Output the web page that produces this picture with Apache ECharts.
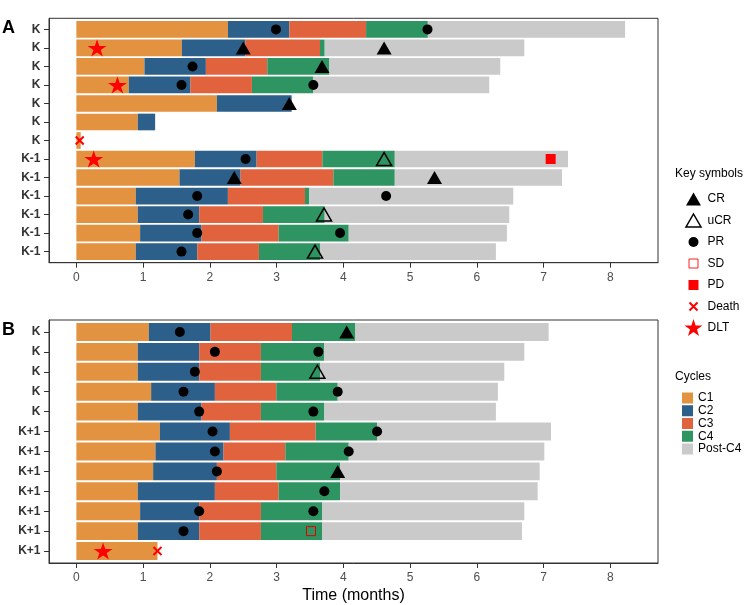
<!DOCTYPE html>
<html><head><meta charset="utf-8">
<script src="https://cdn.jsdelivr.net/npm/echarts@6/dist/echarts.min.js"></script>
<style>html,body{margin:0;padding:0;background:#fff}#c{width:744px;height:605px}</style>
</head><body><div id="c"></div>
<script>
// ---------- DATA ----------
const phaseNames = ['C1', 'C2', 'C3', 'C4', 'Post-C4'];
const xTicks = [0, 1, 2, 3, 4, 5, 6, 7, 8];

// Panel A
const labelsA = ['K','K','K','K','K','K','K','K-1','K-1','K-1','K-1','K-1','K-1'];
const c1EndA   = [2.27, 1.58, 1.02, 0.785, 2.105, 0.92, 0.065, 1.775, 1.545, 0.89, 0.92, 0.955, 0.89];
const c2EndA   = [3.19, 2.53, 1.94, 1.71, 3.225, 1.18, null, 2.70, 2.46, 2.27, 1.84, 1.875, 1.81];
const c3EndA   = [4.34, 3.65, 2.86, 2.63, null, null, null, 3.685, 3.85, 3.425, 2.795, 3.03, 2.735];
const c4EndA   = [5.265, 3.72, 3.79, 3.55, null, null, null, 4.77, 4.77, 3.49, 3.72, 4.08, 3.65];
const postEndA = [8.22, 6.71, 6.35, 6.185, null, null, null, 7.365, 7.275, 6.545, 6.485, 6.45, 6.285];
const crA    = [[2.50,1],[4.61,1],[3.68,2],[3.19,4],[2.365,8],[5.365,8]];
const ucrA   = [[4.61,7],[3.71,10],[3.575,12]];
const prA    = [[2.99,0],[5.26,0],[1.74,2],[1.575,3],[3.55,3],[2.535,7],[1.81,9],[4.64,9],[1.675,10],[1.81,11],[3.95,11],[1.575,12]];
const sdA    = [];
const pdA    = [[7.105,7]];
const deathA = [[0.05,6]];
const dltA   = [[0.31,1],[0.615,3],[0.26,7]];

// Panel B
const labelsB = ['K','K','K','K','K','K+1','K+1','K+1','K+1','K+1','K+1','K+1'];
const c1EndB   = [1.085, 0.92, 0.92, 1.12, 0.92, 1.25, 1.185, 1.15, 0.92, 0.955, 0.92, 1.215];
const c2EndB   = [2.01, 1.84, 1.84, 2.075, 1.875, 2.30, 2.205, 2.105, 2.075, 1.84, 1.84, null];
const c3EndB   = [3.23, 2.765, 2.765, 2.995, 2.765, 3.585, 3.13, 2.995, 3.03, 2.765, 2.765, null];
const c4EndB   = [4.18, 3.715, 3.65, 3.915, 3.715, 4.505, 4.08, 3.95, 3.95, 3.685, 3.685, null];
const postEndB = [7.075, 6.71, 6.41, 6.315, 6.285, 7.11, 7.01, 6.94, 6.91, 6.71, 6.675, null];
const crB    = [[4.05,0],[3.915,7]];
const ucrB   = [[3.61,2]];
const prB    = [[1.55,0],[2.075,1],[3.625,1],[1.775,2],[1.605,3],[3.915,3],[1.84,4],[3.55,4],[2.04,5],[4.505,5],[2.075,6],[4.08,6],[2.105,7],[3.715,8],[1.84,9],[3.55,9],[1.605,10]];
const sdB    = [[3.515,10]];
const pdB    = [];
const deathB = [[1.215,11]];
const dltB   = [[0.40,11]];

// ---------- STYLE ----------
const FONT = 'Liberation Sans, Arial, Helvetica, sans-serif';
const phaseColors = ['#E3923F', '#2C5F8A', '#E0633D', '#2E9461', '#CACACA'];
const STAR = 'path://M10,0L12.245,6.91L19.511,6.91L13.633,11.18L15.878,18.09L10,13.82L4.122,18.09L6.367,11.18L0.489,6.91L7.755,6.91Z';
const XPATH = 'path://M0,0L10,10M10,0L0,10';
const markerDefs = {
  CR:    {symbol:'triangle', size:[15,13], style:{color:'#000'}},
  uCR:   {symbol:'triangle', size:[15,13], style:{color:'none', borderColor:'#000', borderWidth:1.5}},
  PR:    {symbol:'circle', size:10, style:{color:'#000'}},
  SD:    {symbol:'rect', size:9, style:{color:'none', borderColor:'#E00000', borderWidth:1}},
  PD:    {symbol:'rect', size:10, style:{color:'#FF0000'}},
  Death: {symbol:XPATH, size:8, style:{color:'none', borderColor:'#FF0000', borderWidth:2}},
  DLT:   {symbol:STAR, size:[19,18], style:{color:'#FF0000'}}
};
const markerOrder = ['CR','uCR','PR','SD','PD','Death','DLT'];
const legendIcons = {
  CR:    {icon:'path://M0,0M18,18M9,2.5L16.5,15.5L1.5,15.5Z', itemStyle:{color:'#000', borderWidth:0}},
  uCR:   {icon:'path://M0,0M18,18M9,2.5L16.5,15.5L1.5,15.5Z', itemStyle:{color:'none', borderColor:'#000', borderWidth:1.5}},
  PR:    {icon:'path://M0,0M18,18M4,9a5,5 0 1,0 10,0a5,5 0 1,0 -10,0Z', itemStyle:{color:'#000', borderWidth:0}},
  SD:    {icon:'path://M0,0M18,18M4.5,4.5L13.5,4.5L13.5,13.5L4.5,13.5Z', itemStyle:{color:'none', borderColor:'#FF2020', borderWidth:1}},
  PD:    {icon:'path://M0,0M18,18M4,4L14,4L14,14L4,14Z', itemStyle:{color:'#FF0000', borderWidth:0}},
  Death: {icon:'path://M0,0M18,18M5,5L13,13M13,5L5,13', itemStyle:{color:'none', borderColor:'#FF0000', borderWidth:2}},
  DLT:   {icon:STAR, itemStyle:{color:'#FF0000', borderWidth:0}}
};

const panels = [
  {labels:labelsA, ends:[c1EndA,c2EndA,c3EndA,c4EndA,postEndA],
   markers:{CR:crA,uCR:ucrA,PR:prA,SD:sdA,PD:pdA,Death:deathA,DLT:dltA},
   grid:{left:49, top:18.3, width:609, height:244.4}, xName:''},
  {labels:labelsB, ends:[c1EndB,c2EndB,c3EndB,c4EndB,postEndB],
   markers:{CR:crB,uCR:ucrB,PR:prB,SD:sdB,PD:pdB,Death:deathB,DLT:dltB},
   grid:{left:49, top:320, width:609, height:243.3}, xName:'Time (months)'}
];

function renderSeg(params, api) {
  const s = api.value(0), e = api.value(1), r = api.value(2);
  const p0 = api.coord([s, r]), p1 = api.coord([e, r]);
  const h = api.size([0, 0.9])[1];
  return {type:'rect', shape:{x:p0[0], y:p0[1]-h/2, width:p1[0]-p0[0], height:h},
          style:{fill: api.visual('color')}};
}

const grids = [], xAxes = [], yAxes = [], series = [];
panels.forEach((p, pi) => {
  grids.push(Object.assign({show:true, borderColor:'#333', borderWidth:1}, p.grid));
  xAxes.push({
    type:'value', gridIndex:pi, min:-0.41, max:8.713,
    axisLine:{show:true, onZero:false, lineStyle:{color:'#333', width:1}}, splitLine:{show:false},
    axisTick:{show:true, length:5, lineStyle:{color:'#333', width:1}, customValues:xTicks},
    axisLabel:{color:'#4D4D4D', fontSize:12, fontFamily:FONT, margin:9, customValues:xTicks},
    name:p.xName, nameLocation:'middle', nameGap:25,
    nameTextStyle:{color:'#000', fontSize:16, fontFamily:FONT}
  });
  const rows = p.labels.map((_, i) => i);
  yAxes.push({
    type:'value', gridIndex:pi, inverse:true, min:-0.6, max:p.labels.length - 0.4,
    axisLine:{show:true, onZero:false, lineStyle:{color:'#333', width:1}}, splitLine:{show:false},
    axisTick:{show:true, length:5, lineStyle:{color:'#333', width:1}, customValues:rows},
    axisLabel:{color:'#333', fontSize:12, fontWeight:'bold', fontFamily:FONT, margin:8.5,
               customValues:rows, formatter:(v) => p.labels[Math.round(v)]}
  });
  p.ends.forEach((arr, k) => {
    const data = [];
    arr.forEach((e, i) => {
      if (e == null) return;
      const s = k === 0 ? 0 : p.ends[k-1][i];
      data.push([s, e, i]);
    });
    series.push({type:'custom', name:phaseNames[k], xAxisIndex:pi, yAxisIndex:pi,
      renderItem:renderSeg, data:data, encode:{x:[0,1], y:2},
      itemStyle:{color:phaseColors[k]}, silent:true, z:2});
  });
  markerOrder.forEach(m => {
    const d = markerDefs[m];
    series.push({type:'scatter', name:m, xAxisIndex:pi, yAxisIndex:pi,
      data:p.markers[m], symbol:d.symbol, symbolSize:d.size, symbolKeepAspect:true,
      itemStyle:Object.assign({opacity:1}, d.style), silent:true, z:5});
  });
});

const chart = echarts.init(document.getElementById('c'), null, {renderer:'canvas'});
chart.setOption({
  animation:false,
  backgroundColor:'#fff',
  textStyle:{fontFamily:FONT},
  grid:grids, xAxis:xAxes, yAxis:yAxes, series:series,
  legend:[
    {orient:'vertical', left:677, top:185, itemWidth:18, itemHeight:18, itemGap:1, itemTextGap:6,
     selectedMode:false, textStyle:{fontSize:12, color:'#000', fontFamily:FONT},
     data:markerOrder.map(m => Object.assign({name:m}, legendIcons[m]))},
    {orient:'vertical', left:677, top:387, itemWidth:11, itemHeight:11, itemGap:0.75, itemTextGap:7,
     selectedMode:false, textStyle:{fontSize:12, color:'#000', fontFamily:FONT},
     data:phaseNames.map(n => ({name:n, icon:'rect'}))}
  ],
  graphic:[
    {type:'text', left:2, top:19, style:{text:'A', font:'bold 18px ' + FONT, fill:'#000'}},
    {type:'text', left:2, top:321, style:{text:'B', font:'bold 18px ' + FONT, fill:'#000'}},
    {type:'text', left:675, top:168, style:{text:'Key symbols', font:'12px ' + FONT, fill:'#000'}},
    {type:'text', left:675, top:371, style:{text:'Cycles', font:'12px ' + FONT, fill:'#000'}}
  ]
});
</script></body></html>
